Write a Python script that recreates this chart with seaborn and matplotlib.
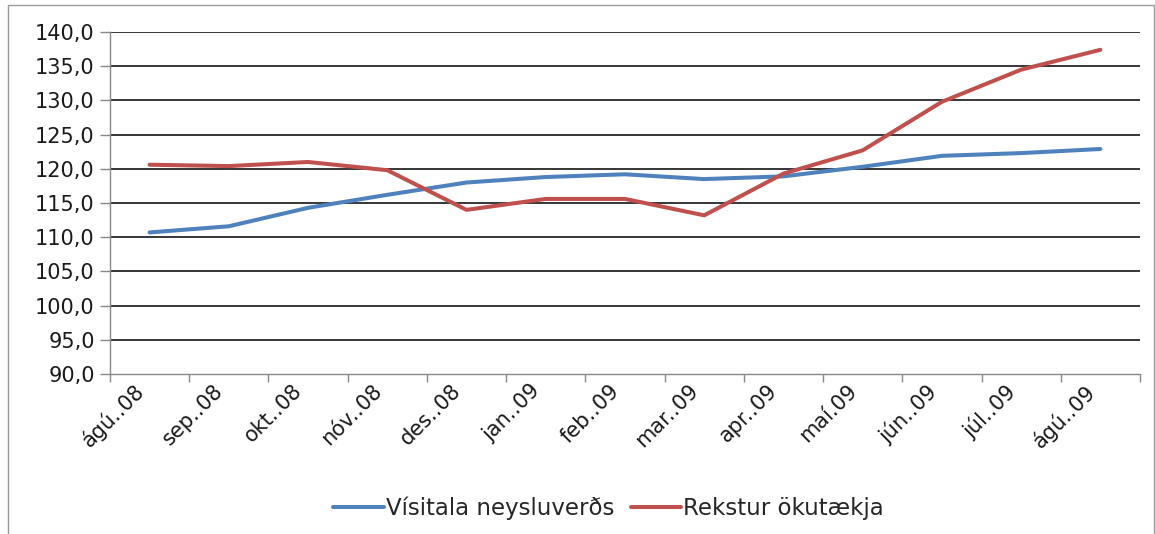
import numpy as np
import pandas as pd
import matplotlib.pyplot as plt
import matplotlib.ticker as mtick
import matplotlib.transforms as mtrans
from matplotlib.patches import Rectangle
from matplotlib.lines import Line2D
import seaborn as sns

# data
months = ['ágú..08', 'sep..08', 'okt..08', 'nóv..08', 'des..08', 'jan..09', 'feb..09',
          'mar..09', 'apr..09', 'maí.09', 'jún..09', 'júl..09', 'ágú..09']
visitala = [110.7, 111.6, 114.3, 116.2, 118.0, 118.8, 119.2, 118.5, 118.9, 120.3, 121.9, 122.3, 122.9]
rekstur = [120.6, 120.4, 121.0, 119.8, 114.0, 115.6, 115.6, 113.2, 119.3, 122.7, 129.8, 134.5, 137.4]
series_names = ['Vísitala neysluverðs', 'Rekstur ökutækja']
yticks = [90, 95, 100, 105, 110, 115, 120, 125, 130, 135, 140]

df = pd.DataFrame({
    'pos': list(range(len(months))) * 2,
    'value': visitala + rekstur,
    'series': [series_names[0]] * len(months) + [series_names[1]] * len(months),
})

sns.set_theme(style='white')
plt.rcParams['font.family'] = ['DejaVu Sans']

fig = plt.figure(figsize=(11.55, 5.34), dpi=100)
ax = fig.add_axes([0.0952, 0.2996, 0.8918, 0.6404])

palette = {series_names[0]: '#4F81BD', series_names[1]: '#C0504D'}
sns.lineplot(data=df, x='pos', y='value', hue='series', palette=palette,
             linewidth=2.9, ax=ax, legend=False, solid_joinstyle='round',
             solid_capstyle='round')

ax.set_xlim(-0.5, len(months) - 0.5)
ax.set_ylim(90, 140)
ax.set_yticks(yticks)
ax.yaxis.set_major_formatter(mtick.FuncFormatter(lambda v, p: f'{v:.1f}'.replace('.', ',')))
for y in yticks[1:]:
    ax.axhline(y, color='black', lw=1.1, zorder=0)

ax.set_xticks(range(len(months)))
ax.set_xticklabels(months, rotation=45, ha='right', rotation_mode='anchor')
ax.set_xticks(np.arange(-0.5, len(months), 1.0), minor=True)
ax.tick_params(axis='x', which='major', length=0, pad=9, labelsize=15, labelcolor='#1a1a1a')
ax.tick_params(axis='x', which='minor', length=6, color='#888888', width=1, direction='out',
               bottom=True)
ax.tick_params(axis='y', length=7, color='#888888', width=1, direction='out', left=True,
               labelsize=15, labelcolor='#1a1a1a', pad=4)

# nudge the rotated month labels a bit left/up, like the original
shift = mtrans.ScaledTranslation(-16 / 100, 6 / 100, fig.dpi_scale_trans)
for lbl in ax.get_xticklabels():
    lbl.set_transform(lbl.get_transform() + shift)

ax.set_xlabel('')
ax.set_ylabel('')
for side in ['top', 'right']:
    ax.spines[side].set_visible(False)
for side in ['left', 'bottom']:
    ax.spines[side].set_color('#888888')
    ax.spines[side].set_linewidth(1)

# legend below
handles = [Line2D([0], [0], color=palette[s], lw=2.9) for s in series_names]
fig.legend(handles, series_names, loc='center', bbox_to_anchor=(0.527, 0.049), ncol=2,
           frameon=False, fontsize=16.5, handlelength=2.2, handletextpad=0.1,
           columnspacing=0.7)

# outer chart frame
fig.patches.append(Rectangle((0.007, -0.05), 0.992, 1.04, transform=fig.transFigure,
                             fill=False, edgecolor='#999999', lw=1))

fig.savefig('out.png', dpi=100)
